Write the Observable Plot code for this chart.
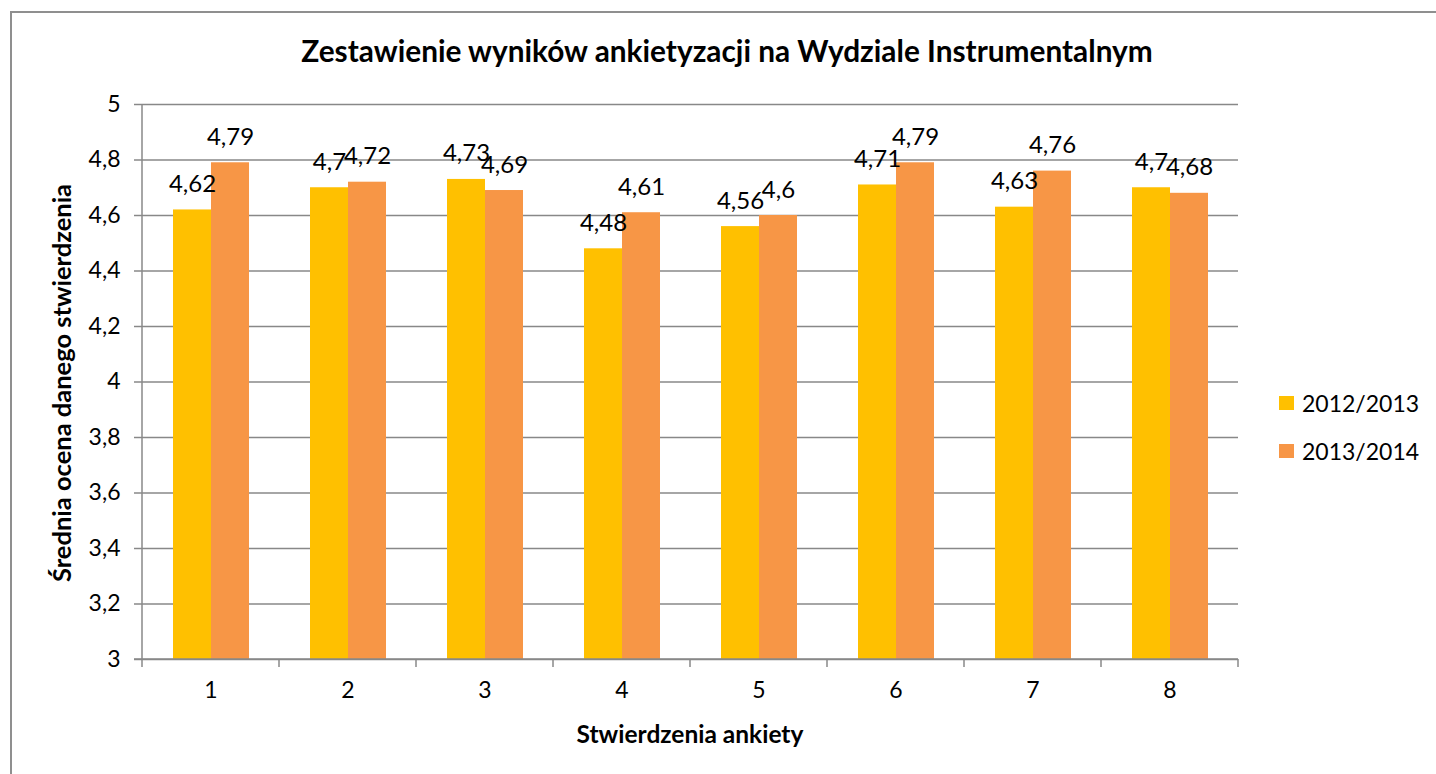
<!DOCTYPE html>
<html>
<head>
<meta charset="utf-8">
<script src="https://cdn.jsdelivr.net/npm/d3@7"></script>
<script src="https://cdn.jsdelivr.net/npm/@observablehq/plot@0.6"></script>
<style>
  html, body { margin: 0; padding: 0; background: #fff; overflow: hidden; }
  #wrap { position: relative; width: 1436px; height: 774px; font-family: Lato, "Open Sans", sans-serif; }
  #frame { position: absolute; left: 10px; top: 11px; width: 1600px; height: 900px; border: 2px solid #8f8f8f; box-sizing: border-box; }
  #chart { position: absolute; left: 0; top: 0; }
  #title { position: absolute; left: 10px; width: 1434px; top: 33px; text-align: center; font-weight: bold; font-size: 29.8px; color: #000; }
  #ylabel { position: absolute; left: 61px; top: 383px; transform: translate(-50%, -50%) rotate(-90deg); white-space: nowrap; font-weight: bold; font-size: 25.5px; }
  #xlabel { position: absolute; left: 690px; top: 733px; transform: translate(-50%, -50%); white-space: nowrap; font-weight: bold; font-size: 24.5px; }
  .leg { position: absolute; left: 1279px; display: flex; align-items: center; font-size: 23px; white-space: nowrap; }
  .leg span.sw { display: inline-block; width: 15px; height: 14px; margin-right: 8px; }
</style>
</head>
<body>
<div id="wrap">
  <div id="frame"></div>
  <div id="chart"></div>
  <div id="title"></div>
  <div id="ylabel"></div>
  <div id="xlabel"></div>
  <div id="legend"></div>
</div>
<script>
const titleText = "Zestawienie wyników ankietyzacji na Wydziale Instrumentalnym";
const yLabel = "Średnia ocena danego stwierdzenia";
const xLabel = "Stwierdzenia ankiety";
const statements = [1, 2, 3, 4, 5, 6, 7, 8];
const years = ["2012/2013", "2013/2014"];
const values2012 = [4.62, 4.7, 4.73, 4.48, 4.56, 4.71, 4.63, 4.7];
const values2014 = [4.79, 4.72, 4.69, 4.61, 4.6, 4.79, 4.76, 4.68];
const yTicks = [3, 3.2, 3.4, 3.6, 3.8, 4, 4.2, 4.4, 4.6, 4.8, 5];
const colors = ["#FFC000", "#F79646"];

const fmt = v => String(v).replace(".", ",");
const data = [];
statements.forEach((s, i) => {
  data.push({stmt: s, year: years[0], value: values2012[i]});
  data.push({stmt: s, year: years[1], value: values2014[i]});
});

const gray = "#888888";
const plot = Plot.plot({
  width: 1436, height: 774,
  marginLeft: 142, marginRight: 198, marginTop: 104, marginBottom: 115,
  style: {fontFamily: "Lato, 'Open Sans', sans-serif", fontSize: "23px", color: "#000", background: "transparent", overflow: "visible"},
  fx: {domain: statements, paddingInner: 0, paddingOuter: 0, label: null},
  x: {domain: years, paddingInner: 0, paddingOuter: 0.78, axis: null},
  y: {domain: [3, 5], axis: null},
  color: {domain: years, range: colors},
  marks: [
    Plot.gridY(yTicks, {stroke: gray, strokeOpacity: 1, strokeWidth: 1.5}),
    Plot.barY(data, {fx: "stmt", x: "year", y1: 3, y2: "value", fill: "year", inset: 0}),
    Plot.text(data, {fx: "stmt", x: "year", y: "value", text: d => fmt(d.value), lineAnchor: "bottom", dy: -18, fontSize: 24, fill: "#000"}),
    Plot.axisFx({anchor: "bottom", tickSize: 0, tickPadding: 22, fontSize: 23, label: null, fill: "#000"}),
    Plot.axisY(yTicks, {anchor: "left", tickSize: 8, tickPadding: 14, stroke: gray, strokeWidth: 1.5, tickFormat: fmt, fontSize: 23, label: null, fill: "#000"})
  ]
});
document.getElementById("chart").appendChild(plot);

// Axis lines and category boundary ticks drawn from the plot's own scales
const svg = d3.select(plot);
const fx = plot.scale("fx");
const y = plot.scale("y");
const bw = fx.bandwidth;
const y0 = y.apply(3), y1 = y.apply(5);
const left = fx.apply(statements[0]);
const g = svg.append("g").attr("stroke", gray).attr("stroke-width", 1.5);
g.append("line").attr("x1", left).attr("x2", left).attr("y1", y1).attr("y2", y0 + 8);
g.append("line").attr("x1", left - 8).attr("x2", fx.apply(statements[statements.length - 1]) + bw).attr("y1", y0).attr("y2", y0);
statements.forEach(s => {
  const xr = fx.apply(s) + bw;
  g.append("line").attr("x1", xr).attr("x2", xr).attr("y1", y0).attr("y2", y0 + 8);
});

document.getElementById("title").textContent = titleText;
document.getElementById("ylabel").textContent = yLabel;
document.getElementById("xlabel").textContent = xLabel;
const legend = document.getElementById("legend");
const legendTops = [404, 452];
years.forEach((yr, i) => {
  const item = document.createElement("div");
  item.className = "leg";
  item.style.top = (legendTops[i] - 15) + "px";
  const sw = document.createElement("span");
  sw.className = "sw";
  sw.style.background = colors[i];
  item.appendChild(sw);
  item.appendChild(document.createTextNode(yr));
  legend.appendChild(item);
});
</script>
</body>
</html>
